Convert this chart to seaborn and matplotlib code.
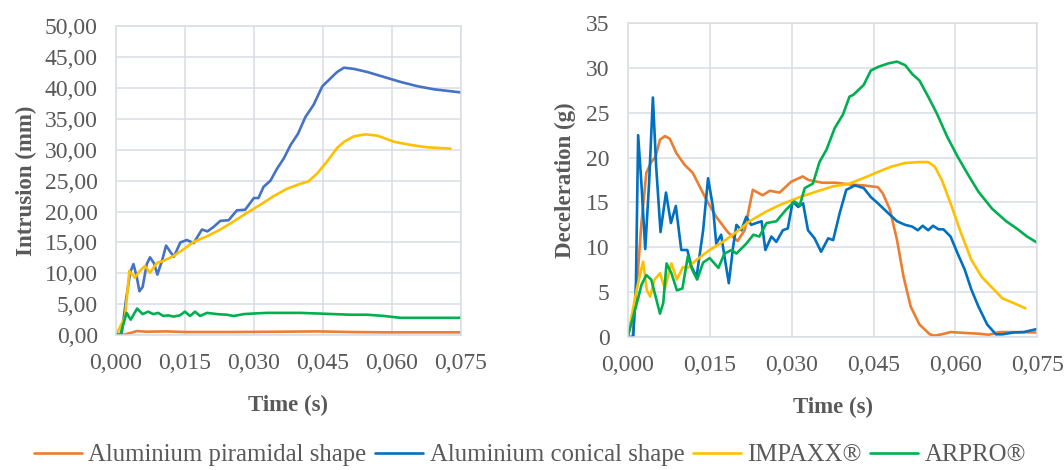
import pandas as pd
import seaborn as sns
import matplotlib.pyplot as plt
import numpy as np

series = ["Aluminium piramidal shape", "Aluminium conical shape", "IMPAXX®", "ARPRO®"]

# ---- intrusion (left) ----
int_pir_t = [0, 0.0016, 0.0034, 0.0045, 0.0067, 0.011, 0.015, 0.025, 0.036, 0.044, 0.051, 0.058, 0.075]
int_pir_y = [0, 0.05, 0.4, 0.65, 0.55, 0.6, 0.5, 0.5, 0.55, 0.6, 0.5, 0.45, 0.45]

int_con_t = [0, 0.0012, 0.0022, 0.0031, 0.0038, 0.0045, 0.0051, 0.0058, 0.0067, 0.0074, 0.0083, 0.0090,
             0.0100, 0.0109, 0.0118, 0.0126, 0.0140, 0.0154, 0.0169, 0.0187, 0.0199, 0.0212, 0.0227, 0.0245,
             0.0263, 0.0281, 0.0300, 0.0310, 0.0321, 0.0336, 0.0350, 0.0365, 0.0380, 0.0396, 0.0412, 0.0430,
             0.0449, 0.0463, 0.0481, 0.0496, 0.0518, 0.0547, 0.0583, 0.0619, 0.0656, 0.0692, 0.075]
int_con_y = [0, 0, 5.8, 10.2, 11.5, 9.5, 7.1, 7.8, 11.5, 12.6, 11.6, 9.8,
             12.0, 14.5, 13.5, 12.7, 15.0, 15.4, 14.9, 17.1, 16.8, 17.5, 18.5, 18.6,
             20.2, 20.3, 22.2, 22.2, 24.0, 25.0, 26.9, 28.6, 30.8, 32.6, 35.3, 37.3,
             40.3, 41.3, 42.6, 43.3, 43.1, 42.6, 41.8, 41.0, 40.3, 39.8, 39.3]

int_imp_t = [0, 0.0020, 0.0029, 0.0041, 0.0052, 0.0063, 0.0074, 0.0089, 0.0103, 0.0125, 0.0147, 0.0169,
             0.0198, 0.0227, 0.0256, 0.0285, 0.0314, 0.0343, 0.0372, 0.0401, 0.0419, 0.0438, 0.0459, 0.0481,
             0.0496, 0.0518, 0.0543, 0.0569, 0.0605, 0.0641, 0.0678, 0.0728]
int_imp_y = [0, 3.0, 10.4, 9.3, 10.4, 11.2, 10.1, 11.7, 12.0, 12.8, 13.9, 15.1,
             16.0, 17.1, 18.4, 19.8, 21.1, 22.5, 23.7, 24.5, 24.9, 26.2, 28.1, 30.3,
             31.3, 32.2, 32.5, 32.3, 31.3, 30.8, 30.4, 30.2]

int_arp_t = [0, 0.0009, 0.0017, 0.0023, 0.0032, 0.0046, 0.0058, 0.0070, 0.0081, 0.0092, 0.0103, 0.0114,
             0.0125, 0.0139, 0.0150, 0.0161, 0.0172, 0.0183, 0.0198, 0.0220, 0.0241, 0.0256, 0.0278, 0.0300,
             0.0328, 0.0365, 0.0401, 0.0438, 0.0474, 0.0510, 0.0547, 0.0583, 0.0619, 0.0656, 0.075]
int_arp_y = [0.2, 0, 2.0, 3.6, 2.5, 4.3, 3.4, 3.8, 3.4, 3.6, 3.1, 3.2,
             3.0, 3.2, 3.8, 3.1, 3.8, 3.1, 3.6, 3.4, 3.3, 3.1, 3.4, 3.5,
             3.6, 3.6, 3.6, 3.5, 3.4, 3.3, 3.3, 3.1, 2.8, 2.8, 2.8]

# ---- deceleration (right) ----
dec_pir_t = [0, 0.0009, 0.0017, 0.0025, 0.0034, 0.0043, 0.0051, 0.0059, 0.0068, 0.0077, 0.0089, 0.0104,
             0.0119, 0.0144, 0.0162, 0.0183, 0.0201, 0.0214, 0.0229, 0.0247, 0.0260, 0.0278, 0.0299, 0.0320,
             0.0331, 0.0356, 0.0381, 0.0407, 0.0432, 0.0458, 0.0467, 0.0480, 0.0493, 0.0505, 0.0518, 0.0534,
             0.0553, 0.0562, 0.0575, 0.0591, 0.0617, 0.0642, 0.0661, 0.0680, 0.0706, 0.075]
dec_pir_y = [0, 0, 6.0, 12.7, 18.3, 19.5, 20.1, 22.0, 22.4, 22.1, 20.5, 19.2,
             18.3, 15.3, 13.4, 11.7, 10.7, 11.9, 16.4, 15.8, 16.3, 16.1, 17.3, 17.9,
             17.5, 17.2, 17.2, 17.0, 16.9, 16.7, 16.0, 14.2, 10.8, 6.7, 3.4, 1.4,
             0.3, 0.15, 0.3, 0.55, 0.45, 0.37, 0.25, 0.55, 0.55, 0.5]

dec_con_t = [0, 0.0010, 0.0015, 0.0019, 0.0025, 0.0032, 0.0039, 0.0046, 0.0052, 0.0060, 0.0070, 0.0079,
             0.0088, 0.0098, 0.0109, 0.0117, 0.0126, 0.0138, 0.0147, 0.0156, 0.0162, 0.0171, 0.0177, 0.0185,
             0.0193, 0.0199, 0.0208, 0.0217, 0.0226, 0.0235, 0.0245, 0.0252, 0.0263, 0.0272, 0.0284, 0.0293,
             0.0302, 0.0312, 0.0321, 0.0330, 0.0342, 0.0354, 0.0367, 0.0376, 0.0388, 0.0400, 0.0416, 0.0432,
             0.0445, 0.0458, 0.0477, 0.0493, 0.0508, 0.0521, 0.0531, 0.0540, 0.0550, 0.0559, 0.0569, 0.0578,
             0.0591, 0.0604, 0.0617, 0.0629, 0.0642, 0.0658, 0.0674, 0.0686, 0.0706, 0.0725, 0.075]
dec_con_y = [0, 0, 6.0, 22.5, 17.1, 9.8, 17.1, 26.7, 19.0, 11.7, 16.1, 12.7,
             14.6, 9.7, 9.7, 7.8, 6.7, 11.9, 17.7, 14.5, 10.4, 11.4, 9.0, 6.0,
             10.1, 12.5, 11.9, 13.4, 12.5, 12.7, 12.9, 9.7, 11.2, 10.6, 11.9, 12.1,
             15.1, 14.5, 14.9, 11.9, 11.0, 9.5, 11.0, 10.8, 13.8, 16.4, 16.9, 16.6,
             15.6, 14.9, 13.8, 12.9, 12.5, 12.3, 11.9, 12.4, 11.9, 12.4, 12.0, 12.0,
             11.2, 9.3, 7.5, 5.3, 3.4, 1.4, 0.3, 0.3, 0.5, 0.55, 0.9]

dec_imp_t = [0, 0.0016, 0.0028, 0.0035, 0.0041, 0.0049, 0.0059, 0.0068, 0.0080, 0.0090, 0.0101, 0.0110,
             0.0126, 0.0150, 0.0174, 0.0199, 0.0223, 0.0254, 0.0278, 0.0315, 0.0345, 0.0376, 0.0406, 0.0439,
             0.0458, 0.0483, 0.0508, 0.0534, 0.0550, 0.0562, 0.0575, 0.0591, 0.0610, 0.0629, 0.0648, 0.0667,
             0.0686, 0.0706, 0.0728]
dec_imp_y = [0, 5.2, 8.4, 5.2, 4.5, 6.4, 7.1, 5.4, 8.2, 6.4, 7.8, 7.7,
             8.6, 9.7, 10.6, 11.7, 12.9, 14.0, 14.7, 15.6, 16.2, 16.8, 17.1, 17.9,
             18.4, 19.0, 19.4, 19.5, 19.5, 19.0, 17.5, 14.9, 11.6, 8.6, 6.7, 5.5,
             4.3, 3.8, 3.2]

dec_arp_t = [0, 0.0010, 0.0019, 0.0025, 0.0034, 0.0043, 0.0051, 0.0059, 0.0065, 0.0071, 0.0080, 0.0090,
             0.0100, 0.0110, 0.0118, 0.0127, 0.0138, 0.0150, 0.0166, 0.0177, 0.0190, 0.0199, 0.0217, 0.0230,
             0.0241, 0.0254, 0.0272, 0.0290, 0.0305, 0.0315, 0.0324, 0.0339, 0.0351, 0.0364, 0.0379, 0.0394,
             0.0406, 0.0413, 0.0432, 0.0445, 0.0458, 0.0477, 0.0493, 0.0508, 0.0521, 0.0534, 0.0550, 0.0566,
             0.0585, 0.0604, 0.0623, 0.0642, 0.0667, 0.0693, 0.0712, 0.0731, 0.075]
dec_arp_y = [0, 2.3, 4.3, 5.8, 6.9, 6.4, 4.5, 2.6, 3.8, 8.2, 7.1, 5.2,
             5.4, 9.0, 7.5, 6.4, 8.3, 8.8, 7.7, 9.3, 9.7, 9.3, 10.4, 11.4,
             11.2, 12.7, 12.9, 14.2, 15.1, 14.7, 16.6, 17.1, 19.5, 20.9, 23.3, 24.8,
             26.8, 27.0, 28.1, 29.7, 30.1, 30.5, 30.7, 30.3, 29.3, 28.6, 26.8, 24.9,
             22.3, 20.1, 18.1, 16.2, 14.3, 12.9, 12.1, 11.2, 10.5]


def long_df(pairs):
    frames = []
    for name, (t, v) in zip(series, pairs):
        frames.append(pd.DataFrame({"t": t, "v": v, "series": name}))
    return pd.concat(frames, ignore_index=True)


df_int = long_df([(int_pir_t, int_pir_y), (int_con_t, int_con_y),
                  (int_imp_t, int_imp_y), (int_arp_t, int_arp_y)])
df_dec = long_df([(dec_pir_t, dec_pir_y), (dec_con_t, dec_con_y),
                  (dec_imp_t, dec_imp_y), (dec_arp_t, dec_arp_y)])

sns.set_style("whitegrid")
plt.rcParams['font.family'] = ['Liberation Serif', 'DejaVu Serif']
grid_c = "#D9DDE4"
text_c = "#595959"

fig = plt.figure(figsize=(10.64, 4.70), dpi=100)
ax1 = fig.add_axes([0.109, 0.287, 0.324, 0.657])
ax2 = fig.add_axes([0.590, 0.283, 0.385, 0.668])

pal_left = ["#ED7D31", "#4472C4", "#FFC000", "#00B050"]
pal_right = ["#ED7D31", "#0070C0", "#FFC000", "#00B050"]

sns.lineplot(df_int, x="t", y="v", hue="series", palette=pal_left, estimator=None,
             linewidth=1.9, legend=False, ax=ax1)
sns.lineplot(df_dec, x="t", y="v", hue="series", palette=pal_right, estimator=None,
             linewidth=1.9, legend=False, ax=ax2)

xt = np.arange(0, 0.0751, 0.015)
for ax in (ax1, ax2):
    ax.set_xlim(0, 0.075)
    ax.set_xticks(xt)
    ax.set_xticklabels([f"{v:.3f}".replace(".", ",") for v in xt])
    ax.grid(True, color=grid_c, linewidth=1.1)
    for s in ax.spines.values():
        s.set_color(grid_c)
        s.set_linewidth(1.1)
    ax.tick_params(length=0, labelsize=17, labelcolor=text_c, pad=13)
    ax.set_xlabel("Time (s)", fontsize=16.5, fontweight="bold", color=text_c, labelpad=15)

ax1.set_ylim(0, 50)
yt1 = np.arange(0, 50.1, 5)
ax1.set_yticks(yt1)
ax1.set_yticklabels([f"{v:.2f}".replace(".", ",") for v in yt1])
ax1.set_ylabel("Intrusion (mm)", fontsize=16.5, fontweight="bold", color=text_c, labelpad=6)

ax2.set_ylim(0, 35)
ax2.set_yticks(np.arange(0, 36, 5))
ax2.set_ylabel("Deceleration (g)", fontsize=16.5, fontweight="bold", color=text_c, labelpad=7)

fig.legend(handles=ax2.lines[:4], labels=series, loc="center", bbox_to_anchor=(530 / 1064, 1 - 455 / 470),
           ncol=4, frameon=False, fontsize=17.8, handlelength=1.95, handletextpad=0.25,
           columnspacing=0.35, labelcolor=text_c, borderpad=0.1)

fig.savefig("out.png", dpi=100)
